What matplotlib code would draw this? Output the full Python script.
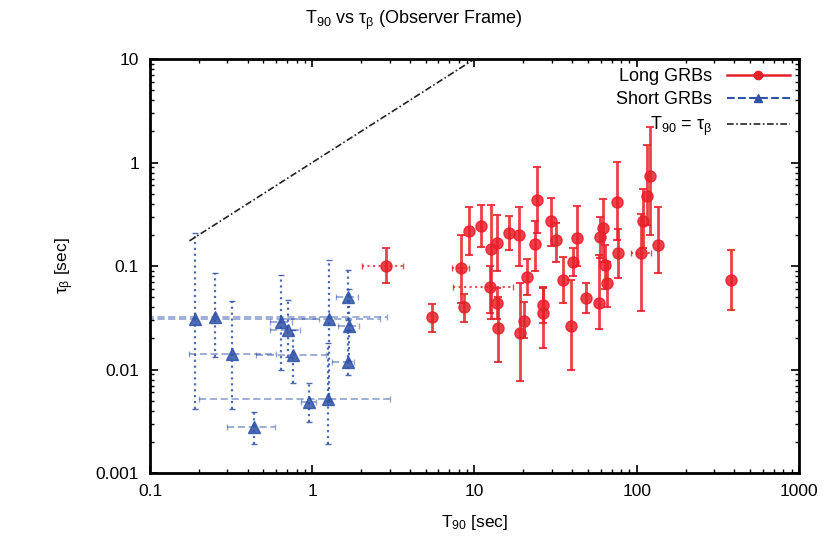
"""
T90 vs tau_beta for long and short GRBs (observer frame), log-log.
"""

import matplotlib.pyplot as plt
import numpy as np
from matplotlib.lines import Line2D
from matplotlib.ticker import FixedLocator, FixedFormatter, LogLocator, NullFormatter

plt.rcParams['font.family'] = ['Liberation Sans', 'DejaVu Sans']
plt.rcParams['mathtext.fontset'] = 'custom'
plt.rcParams['mathtext.rm'] = 'Liberation Sans'
plt.rcParams['mathtext.it'] = 'Liberation Sans'

# Short GRBs: T90, tau_beta and the ends of their error bars
# ----------------------------------------------------------------------------

short_t90 = [0.19, 0.25, 0.32, 0.64, 0.71, 0.76, 0.95, 1.25, 1.27, 1.67, 1.69, 1.67, 0.44]
short_tau = [0.031, 0.032, 0.014, 0.029, 0.024, 0.0138, 0.0049, 0.0052, 0.0305, 0.0505, 0.0263, 0.0119, 0.0028]
short_tau_lo = [0.0042, 0.0133, 0.0042, 0.0099, 0.0133, 0.0074, 0.0031, 0.0019, 0.005, 0.030, 0.012, 0.0088, 0.0019]
short_tau_hi = [0.21, 0.085, 0.046, 0.082, 0.047, 0.0243, 0.0074, 0.018, 0.114, 0.091, 0.060, 0.0243, 0.0039]
short_t90_lo = [0.06, 0.06, 0.175, 0.55, 0.55, 0.45, 0.85, 0.2, 0.63, 1.41, 1.45, 1.33, 0.30]
short_t90_hi = [1.1, 2.9, 0.6, 0.75, 0.84, 1.22, 1.05, 3.0, 2.6, 1.92, 1.95, 1.8, 0.59]

# Long GRBs
# ----------------------------------------------------------------------------

long_t90 = [2.85, 5.5, 8.2, 8.65, 9.2, 11.0, 12.6, 13.7, 12.4, 13.7,
            14.0, 16.4, 18.9, 21.0, 19.1, 20.2, 23.6, 24.2, 26.3, 26.5,
            29.6, 31.6, 35.0, 39.4, 40.6, 42.7, 48.6, 58.3, 59.4, 61.7,
            64.0, 65.3, 75.9, 76.3, 106, 120, 136, 110, 115, 381]
long_tau = [0.10, 0.032, 0.095, 0.040, 0.22, 0.245, 0.145, 0.166, 0.063, 0.044,
            0.025, 0.207, 0.20, 0.079, 0.0227, 0.0294, 0.162, 0.434, 0.042, 0.035,
            0.272, 0.178, 0.073, 0.0263, 0.11, 0.187, 0.0494, 0.0442, 0.192, 0.231,
            0.102, 0.068, 0.418, 0.133, 0.135, 0.74, 0.16, 0.27, 0.48, 0.073]
long_tau_lo = [0.068, 0.023, 0.044, 0.0285, 0.128, 0.151, 0.031, 0.09, 0.035, 0.031,
               0.0118, 0.143, 0.101, 0.0526, 0.0078, 0.020, 0.09, 0.207, 0.028, 0.0161,
               0.156, 0.11, 0.0436, 0.010, 0.08, 0.101, 0.0348, 0.0245, 0.12, 0.11,
               0.06, 0.04, 0.178, 0.0764, 0.0367, 0.2, 0.085, 0.15, 0.25, 0.0376]
long_tau_hi = [0.148, 0.043, 0.20, 0.0535, 0.374, 0.39, 0.39, 0.31, 0.10, 0.062,
               0.0506, 0.305, 0.374, 0.118, 0.0684, 0.045, 0.27, 0.91, 0.062, 0.063,
               0.458, 0.26, 0.122, 0.073, 0.15, 0.379, 0.069, 0.127, 0.30, 0.44,
               0.16, 0.11, 1.02, 0.23, 0.32, 2.19, 0.37, 0.55, 1.47, 0.143]

# the few long bursts with a T90 error bar
long_x_t90 = [2.85, 8.2, 12.4, 106]
long_x_tau = [0.10, 0.095, 0.063, 0.135]
long_x_lo = [2.04, 7.3, 7.4, 92]
long_x_hi = [3.6, 9.2, 17.3, 122]

# T90 = tau_beta line
diag = [0.175, 10.0]

ticks = [0.001, 0.01, 0.1, 1, 10, 100, 1000]
tick_labels = ['0.001', '0.01', '0.1', '1', '10', '100', '1000']

red = '#e8202a'
blue = '#2f52a6'

# Plot
# ----------------------------------------------------------------------------

fig = plt.figure(figsize=(8.27, 5.45), dpi=100)
ax = fig.add_axes([0.1814, 0.1321, 0.7847, 0.7596])

st = np.array(short_t90)
sy = np.array(short_tau)
xb = ax.errorbar(st, sy, xerr=[st - np.array(short_t90_lo), np.array(short_t90_hi) - st],
                 fmt='none', ecolor=blue, elinewidth=1.3, capsize=2.5, alpha=0.5)
xb[2][0].set_linestyle((0, (4, 2)))
eb = ax.errorbar(st, sy, yerr=[sy - np.array(short_tau_lo), np.array(short_tau_hi) - sy],
                 fmt='^', color=blue, ms=8, ecolor=blue, elinewidth=1.6,
                 capsize=2.5, alpha=0.85)
eb[2][0].set_linestyle(':')

lx = np.array(long_x_t90)
ly = np.array(long_x_tau)
hb = ax.errorbar(lx, ly, xerr=[lx - np.array(long_x_lo), np.array(long_x_hi) - lx],
                 fmt='none', ecolor=red, elinewidth=1.5, capsize=2.5, alpha=0.8)
hb[2][0].set_linestyle(':')

lt = np.array(long_t90)
lyy = np.array(long_tau)
ax.errorbar(lt, lyy, yerr=[lyy - np.array(long_tau_lo), np.array(long_tau_hi) - lyy],
            fmt='o', color=red, ms=8, ecolor=red, elinewidth=2.0, capsize=3,
            capthick=1.5, alpha=0.85)

ax.plot(diag, diag, color='#222222', lw=1.2, ls=(0, (4, 1.5, 1, 1.5)))

ax.set_xscale('log')
ax.set_yscale('log')
ax.set_xlim(0.1, 1000)
ax.set_ylim(0.001, 10)

ax.xaxis.set_major_locator(FixedLocator(ticks[2:]))
ax.xaxis.set_major_formatter(FixedFormatter(tick_labels[2:]))
ax.yaxis.set_major_locator(FixedLocator(ticks[:5]))
ax.yaxis.set_major_formatter(FixedFormatter(tick_labels[:5]))
for a in (ax.xaxis, ax.yaxis):
    a.set_minor_locator(LogLocator(base=10, subs=np.arange(2, 10)))
    a.set_minor_formatter(NullFormatter())
ax.tick_params(which='both', direction='in', top=True, right=True, labelsize=12.5,
               color='black')
ax.tick_params(which='major', length=6, width=1.2, pad=8)
ax.tick_params(which='minor', length=3, width=1.0)
for s in ax.spines.values():
    s.set_linewidth(2)

ax.set_xlabel(r'T$_{90}$ [sec]', fontsize=12.5, labelpad=10)
ax.set_ylabel(r'$\tau_\beta$ [sec]', fontsize=12.5, labelpad=14)
fig.text(0.5, 0.962, r'T$_{90}$ vs $\tau_\beta$ (Observer Frame)', ha='center',
         va='center', fontsize=13)

handles = [
    Line2D([], [], color=red, marker='o', ms=6, lw=1.8),
    Line2D([], [], color=blue, marker='^', ms=6, lw=1.5, ls='--'),
    Line2D([], [], color='#222222', lw=1.2, ls=(0, (4, 1.5, 1, 1.5))),
]
labels = ['Long GRBs', 'Short GRBs', r'T$_{90}$ = $\tau_\beta$']
ax.legend(handles, labels, loc='upper right', frameon=False, markerfirst=False,
          fontsize=13, handlelength=3.5, labelspacing=0.35,
          borderaxespad=0.1, handletextpad=0.8)

fig.savefig('out.png', dpi=100)
